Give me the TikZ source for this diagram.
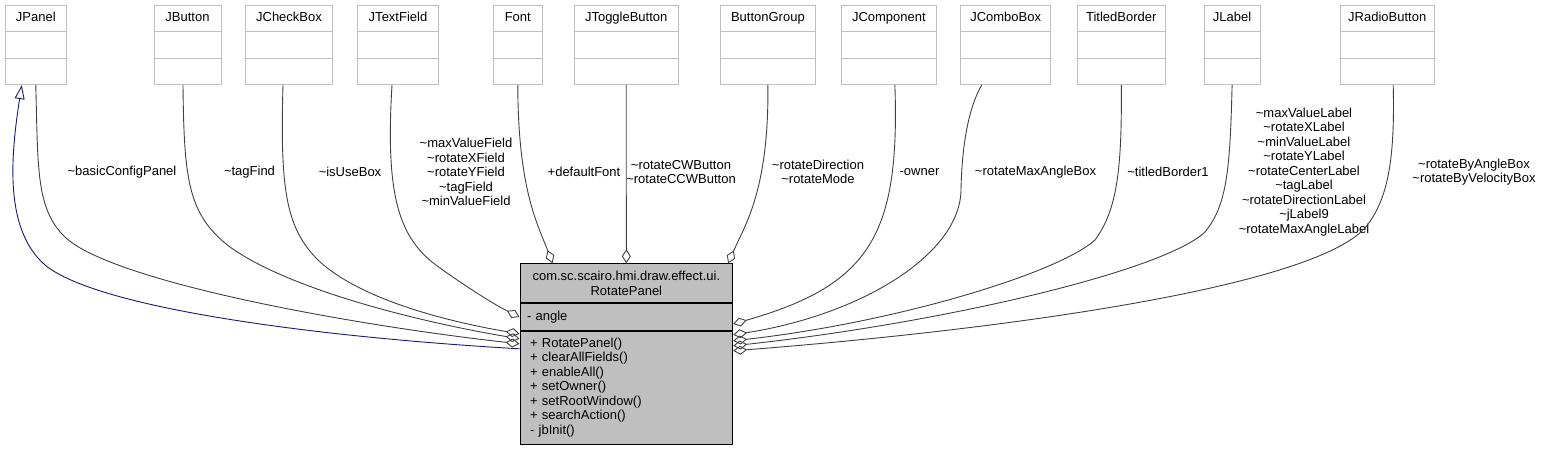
\documentclass[tikz,border=0pt]{standalone}
\usepackage{fontspec}
\setmainfont{Liberation Sans}
\usetikzlibrary{shapes.multipart,arrows.meta,positioning}
\definecolor{boxgray}{RGB}{191,191,191}
\definecolor{edgegray}{RGB}{64,64,64}
\definecolor{inhblue}{RGB}{25,25,112}
\newcommand{\tld}{\textasciitilde}

\begin{document}
\begin{tikzpicture}[x=1pt,y=-1pt,font=\fontsize{13}{14.5}\selectfont,line width=0.9pt]
                \tikzstyle{classbox}=[rectangle split,rectangle split parts=3,draw=boxgray,fill=white,anchor=north,align=center,inner xsep=4pt,inner ysep=5.5pt]
                \tikzstyle{mainpart}=[draw=black,fill=boxgray,minimum width=212.7pt,inner ysep=0pt]
                \tikzstyle{rolelabel}=[align=center,inner sep=0pt]
                \tikzstyle{aggr}=[draw=edgegray,-{Diamond[open,length=14pt,width=9pt]}]
                \tikzstyle{inherit}=[draw=inhblue,{Triangle[open,length=14pt,width=10pt]}-]

                \useasboundingbox (0,0) rectangle (1545,448);

                \node[classbox,text width=53.7pt] (JPanel) at (35.8,5) {JPanel\strut\nodepart{two}\strut\nodepart{three}\strut};
                \node[classbox,text width=59pt] (JButton) at (187.5,5) {JButton\strut\nodepart{two}\strut\nodepart{three}\strut};
                \node[classbox,text width=79.7pt] (JCheckBox) at (289,5) {JCheckBox\strut\nodepart{two}\strut\nodepart{three}\strut};
                \node[classbox,text width=72.6pt] (JTextField) at (398,5) {JTextField\strut\nodepart{two}\strut\nodepart{three}\strut};
                \node[classbox,text width=41pt] (Font) at (517.8,5) {Font\strut\nodepart{two}\strut\nodepart{three}\strut};
                \node[classbox,text width=96.3pt] (JToggleButton) at (626.2,5) {JToggleButton\strut\nodepart{two}\strut\nodepart{three}\strut};
                \node[classbox,text width=86.3pt] (ButtonGroup) at (767.9,5) {ButtonGroup\strut\nodepart{two}\strut\nodepart{three}\strut};
                \node[classbox,text width=86.3pt] (JComponent) at (888.9,5) {JComponent\strut\nodepart{two}\strut\nodepart{three}\strut};
                \node[classbox,text width=82pt] (JComboBox) at (1005.7,5) {JComboBox\strut\nodepart{two}\strut\nodepart{three}\strut};
                \node[classbox,text width=79.3pt] (TitledBorder) at (1121.3,5) {TitledBorder\strut\nodepart{two}\strut\nodepart{three}\strut};
                \node[classbox,text width=47.7pt] (JLabel) at (1232.1,5) {JLabel\strut\nodepart{two}\strut\nodepart{three}\strut};
                \node[classbox,text width=86.3pt] (JRadioButton) at (1387.2,5) {JRadioButton\strut\nodepart{two}\strut\nodepart{three}\strut};

                \node[mainpart,anchor=north,minimum height=39pt,text width=200.7pt,align=center,inner xsep=6pt] (main-name) at (626.35,263.3) {com.sc.scairo.hmi.draw.effect.ui.\\RotatePanel};
                \node[mainpart,minimum height=26.7pt,text width=198.7pt,align=left,inner xsep=7pt,below=0pt of main-name] (main-attr) {- angle};
                \node[mainpart,minimum height=112.7pt,text width=192.7pt,align=left,inner xsep=10pt,below=0pt of main-attr] (main-ops) {+ RotatePanel()\\+ clearAllFields()\\+ enableAll()\\+ setOwner()\\+ setRootWindow()\\+ searchAction()\\- jbInit()};

                \node[rolelabel] (lbl-panel) at (122,172) {\tld basicConfigPanel};
                \node[rolelabel] (lbl-button) at (249.5,172) {\tld tagFind};
                \node[rolelabel] (lbl-check) at (350,172) {\tld isUseBox};
                \node[rolelabel] (lbl-text) at (466,172) {\tld maxValueField\\\tld rotateXField\\\tld rotateYField\\\tld tagField\\\tld minValueField};
                \node[rolelabel] (lbl-font) at (584,172) {+defaultFont};
                \node[rolelabel] (lbl-toggle) at (681,172) {\tld rotateCWButton\\\tld rotateCCWButton};
                \node[rolelabel] (lbl-group) at (818,172) {\tld rotateDirection\\\tld rotateMode};
                \node[rolelabel] (lbl-comp) at (919.5,172) {-owner};
                \node[rolelabel] (lbl-combo) at (1035.5,172) {\tld rotateMaxAngleBox};
                \node[rolelabel] (lbl-border) at (1168,172) {\tld titledBorder1};
                \node[rolelabel] (lbl-label) at (1304,172) {\tld maxValueLabel\\\tld rotateXLabel\\\tld minValueLabel\\\tld rotateYLabel\\\tld rotateCenterLabel\\\tld tagLabel\\\tld rotateDirectionLabel\\\tld jLabel9\\\tld rotateMaxAngleLabel};
                \node[rolelabel] (lbl-radio) at (1474,172) {\tld rotateByAngleBox\\\tld rotateByVelocityBox};

                \draw[inherit] ([xshift=-14pt]JPanel.south) .. controls (10,160) and (5,230) .. (45,265) .. controls (100,310) and (330,338) .. ([yshift=-18pt]main-ops.north west);
                \draw[aggr] (JPanel.south) .. controls (38,170) and (36,210) .. (66,238) .. controls (115,282) and (350,325) .. ([yshift=-13pt]main-ops.north west);
                \draw[aggr] ([xshift=-4.5pt]JButton.south) .. controls (184,180) and (188,215) .. (230,247) .. controls (290,290) and (420,322) .. ([yshift=-8pt]main-ops.north west);
                \draw[aggr] ([xshift=-6pt]JCheckBox.south) .. controls (280,190) and (286,228) .. (318,260) .. controls (360,300) and (450,322) .. ([yshift=-3pt]main-ops.north west);
                \draw[aggr] ([xshift=-6pt]JTextField.south) .. controls (385,200) and (400,240) .. (440,268) .. controls (465,286) and (495,305) .. (main-attr.west);
                \draw[aggr] (Font.south) .. controls (518,190) and (538,225) .. ([xshift=33pt]main-name.north west);
                \draw[aggr] (JToggleButton.south) -- (main-name.north);
                \draw[aggr] (ButtonGroup.south) .. controls (769,190) and (745,225) .. ([xshift=-5pt]main-name.north east);
                \draw[aggr] ([xshift=6pt]JComponent.south) .. controls (900,235) and (870,285) .. ([yshift=-7pt]main-attr.east);
                \draw[aggr] ([xshift=-24pt]JComboBox.south) .. controls (970,105) and (962,140) .. (961,190) .. controls (960,255) and (860,315) .. ([yshift=-4pt]main-ops.north east);
                \draw[aggr] (TitledBorder.south) .. controls (1122,170) and (1117,210) .. (1095,240) .. controls (1060,272) and (900,322) .. ([yshift=-10pt]main-ops.north east);
                \draw[aggr] (JLabel.south) .. controls (1230,170) and (1227,205) .. (1205,232) .. controls (1165,270) and (950,322) .. ([yshift=-15pt]main-ops.north east);
                \draw[aggr] ([xshift=6pt]JRadioButton.south) .. controls (1395,160) and (1388,200) .. (1365,228) .. controls (1310,288) and (1000,330) .. ([yshift=-20pt]main-ops.north east);
\end{tikzpicture}
\end{document}
